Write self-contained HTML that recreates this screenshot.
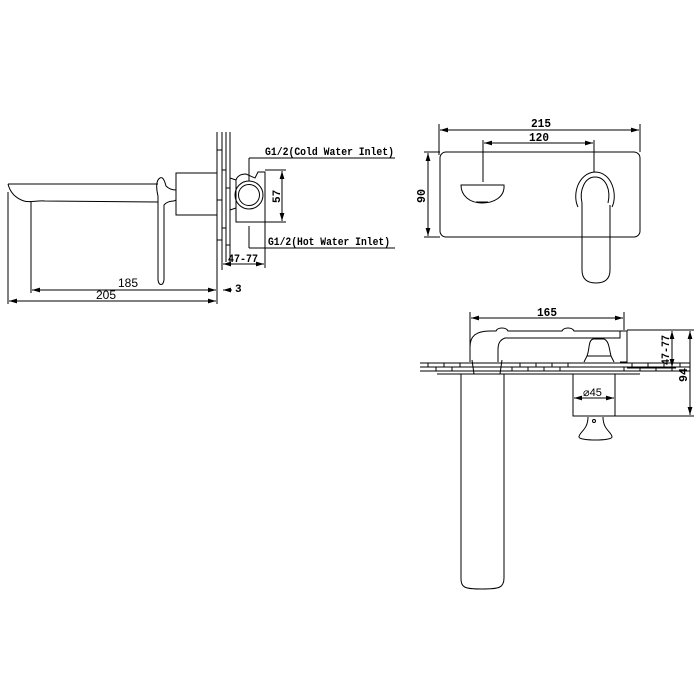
<!DOCTYPE html>
<html><head><meta charset="utf-8"><style>
html,body{margin:0;padding:0;background:#fff;}
svg{display:block}
text{font-family:"Liberation Mono",monospace;font-weight:bold;fill:#000}
.s{font-family:"Liberation Sans",sans-serif;font-weight:normal}
</style></head><body>
<svg width="700" height="700" viewBox="0 0 700 700" xmlns="http://www.w3.org/2000/svg">
<defs>
<marker id="a" viewBox="0 0 10 6" refX="10" refY="3" markerWidth="8" markerHeight="5" orient="auto-start-reverse"><path d="M0,0 L10,3 L0,6 z" fill="#000"/></marker>
</defs>
<g fill="none" stroke="#000" stroke-width="1">
<!-- LEFT VIEW -->
<path d="M8,184 L158,184"/>
<path d="M8,184 C10,192 15,198 24,201 C30,203 38,200 45,201 L158,202"/>
<path d="M160,178 C156,180 156,188 158,196 L158,280 C159,286 163,286 164,280 L164,205 C168,200 174,202 176,200 M160,178 C163,176 165,182 166,186 C170,190 174,190 176,190"/>
<rect x="176" y="173" width="41" height="42"/>
<path d="M217,132 V262 M222,132 V262 M226,132 V262 M230,132 V262"/>
<path d="M217,150 h5 M222,170 h4 M226,188 h4 M217,200 h5 M222,228 h4 M226,245 h4 M217,240 h5"/>
<path d="M230,178 L236,180 L236,208 L230,210"/>
<path d="M236,180 Q238,174 246,174 L255,178 L258,172 L265,172 L265,222 L236,222 L236,208"/>
<circle cx="249" cy="195" r="14"/>
<circle cx="249" cy="195" r="10.5"/>
<path d="M249,158 V181 M249,158 H395"/>
<path d="M249,226 V248 M249,248 H395"/>
<path d="M265,170 H286 M265,222 H286"/>
<line x1="282" y1="171" x2="282" y2="221" marker-start="url(#a)" marker-end="url(#a)"/>
<path d="M265,222 V268"/>
<line x1="223" y1="264" x2="264" y2="264" marker-start="url(#a)" marker-end="url(#a)"/>
<path d="M217,262 V304 M222,262 V270"/>
<path d="M31,202 V293 M8,192 V304"/>
<line x1="32" y1="290" x2="216" y2="290" marker-start="url(#a)" marker-end="url(#a)"/>
<line x1="9" y1="301" x2="216" y2="301" marker-start="url(#a)" marker-end="url(#a)"/>
<line x1="232" y1="290" x2="223" y2="290" marker-end="url(#a)"/>
<!-- TOP RIGHT -->
<path d="M439,124 V155 M640,124 V152"/>
<line x1="440" y1="130" x2="639" y2="130" marker-start="url(#a)" marker-end="url(#a)"/>
<path d="M483,140 V182 M594,140 V172"/>
<line x1="484" y1="143" x2="593" y2="143" marker-start="url(#a)" marker-end="url(#a)"/>
<rect x="440" y="152" width="200" height="85" rx="6"/>
<path d="M424,152 H440 M424,237 H440"/>
<line x1="428" y1="153" x2="428" y2="236" marker-start="url(#a)" marker-end="url(#a)"/>
<path d="M461,185 L504,185 C505,197 494,203 482,203 C470,203 461,196 461,185 Z"/>
<path d="M476,202 H488"/>
<path d="M578,207 C572,195 578,173 595,172 C612,172 618,195 612,207"/>
<path d="M582,203 C579,190 585,177 595,177 C606,177 611,190 608,203"/>
<path d="M582,203 V270 Q582,283 596,283 Q610,283 610,270 V205"/>
<!-- BOTTOM RIGHT -->
<path d="M470,312 V362 M624,312 V330"/>
<line x1="471" y1="318" x2="623" y2="318" marker-start="url(#a)" marker-end="url(#a)"/>
<path d="M470,362 V347 C470,336 476,331 490,331 L496,331 C498,327 506,327 508,331 L562,331 C564,327 572,327 574,331 L620,331 L620,338 L505,338 C500,340 498,343 498,350 L498,362 M505,338 H620"/>
<path d="M620,331 H627 V362 H620"/>
<path d="M587,356 C590,348 588,341 593,339 L604,339 C609,341 609,348 611,356 Z M584,362 L587,356 M611,356 L614,362"/>
<path d="M420,363 H690 M420,367 H690 M420,371 H690 M437,374 H640"/>
<path d="M428,363v4 M444,363v4 M460,363v4 M520,363v4 M536,363v4 M552,363v4 M568,363v4 M632,363v4 M648,363v4 M664,363v4 M680,363v4 M436,367v4 M452,367v4 M512,367v4 M528,367v4 M544,367v4 M560,367v4 M624,367v4 M640,367v4 M656,367v4 M672,367v4"/>
<path d="M472,360 L474,374 H500 L502,360"/>
<path d="M461,374 V578 C461,588 465,589 482,589 C499,589 504,588 504,578 V374"/>
<rect x="573" y="374" width="42" height="42"/>
<line x1="574" y1="398" x2="614" y2="398" marker-start="url(#a)" marker-end="url(#a)"/>
<path d="M588,417 C588,430 579,432 579,437 C579,441 612,441 612,437 C612,432 603,430 603,417"/>
<circle cx="594" cy="421" r="1.5"/>
<path d="M627,330 H694 M615,416 H694 M627,368 H676"/>
<line x1="672" y1="331" x2="672" y2="367" marker-start="url(#a)" marker-end="url(#a)"/>
<line x1="690" y1="331" x2="690" y2="415" marker-start="url(#a)" marker-end="url(#a)"/>
</g>
<text x="265" y="155" font-size="11" textLength="129" lengthAdjust="spacingAndGlyphs">G1/2(Cold Water Inlet)</text>
<text x="268" y="245" font-size="11" textLength="122" lengthAdjust="spacingAndGlyphs">G1/2(Hot Water Inlet)</text>
<text x="0" y="0" font-size="11" transform="translate(280,203) rotate(-90)">57</text>
<text x="228" y="262" font-size="11" textLength="30" lengthAdjust="spacingAndGlyphs">47-77</text>
<text x="235" y="292" font-size="11">3</text>
<text class="s" x="118" y="287" font-size="12">185</text>
<text class="s" x="96" y="299" font-size="12">205</text>
<text x="531" y="127" font-size="12" textLength="20" lengthAdjust="spacingAndGlyphs">215</text>
<text x="529" y="141" font-size="12" textLength="20" lengthAdjust="spacingAndGlyphs">120</text>
<text x="0" y="0" font-size="12" transform="translate(425,203) rotate(-90)" textLength="14" lengthAdjust="spacingAndGlyphs">90</text>
<text x="537" y="316" font-size="12" textLength="20" lengthAdjust="spacingAndGlyphs">165</text>
<text x="0" y="0" font-size="11" transform="translate(669,365) rotate(-90)" textLength="30" lengthAdjust="spacingAndGlyphs">47-77</text>
<text x="0" y="0" font-size="12" transform="translate(687,382) rotate(-90)" textLength="14" lengthAdjust="spacingAndGlyphs">94</text>
<text class="s" x="583" y="396" font-size="11" font-weight="bold">⌀45</text>
</svg>
</body></html>
